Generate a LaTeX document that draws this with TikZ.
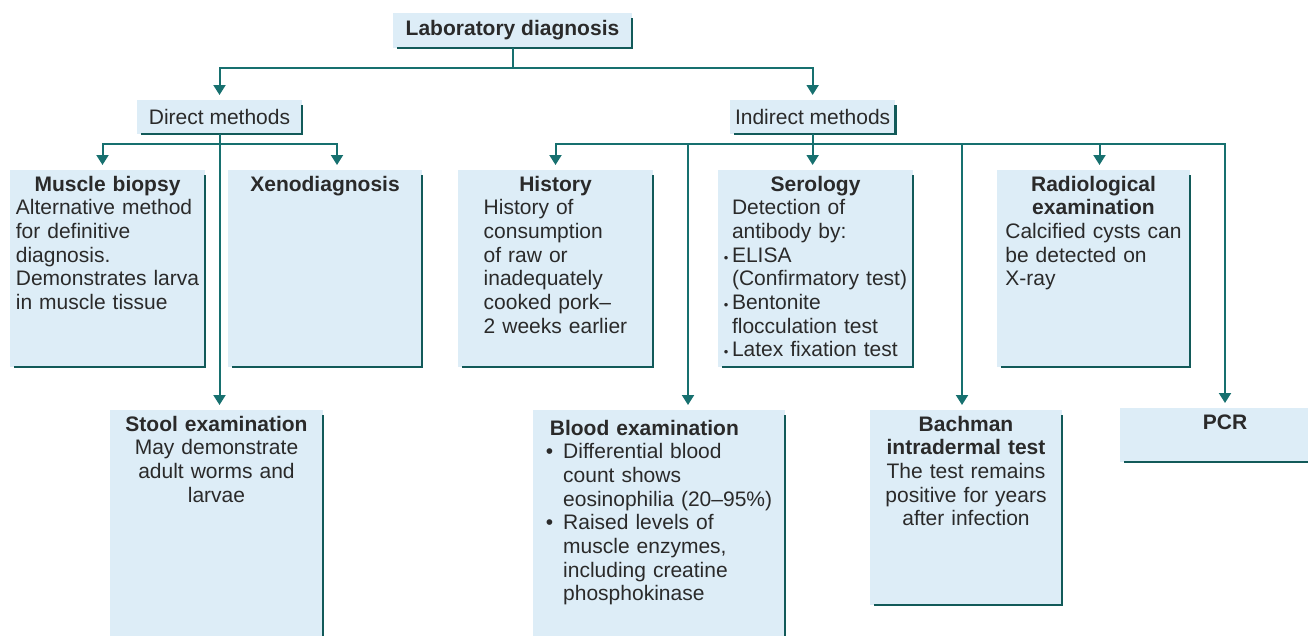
\documentclass[tikz,border=0pt]{standalone}
\usepackage{fontspec}
\setmainfont{Liberation Sans}
\usetikzlibrary{arrows.meta, positioning}
\definecolor{teal}{HTML}{17706F}
\definecolor{sky}{HTML}{DDEDF7}
\definecolor{ink}{HTML}{2A2A2A}
\newcommand{\sdot}{{\fontsize{13}{13}\selectfont\textbullet}}

\begin{document}
\begin{tikzpicture}[
  x=1pt, y=-1pt,
  font=\fontsize{21}{23.7}\selectfont, text=ink,
  panel/.style={fill=sky, anchor=north west, inner xsep=5pt, inner ysep=6pt,
                outer sep=0pt},
  tag/.style={panel, minimum width=#1, minimum height=34pt, inner ysep=0pt},
  cell/.style={panel, text width=#1, align=center, text height=15pt},
  ln/.style={draw=teal, line width=2pt},
  ar/.style={ln, -{Triangle[width=12pt,length=10pt]}, shorten >=5pt},
  edge/.style={draw=teal!80!black, line width=2.6pt}]

\useasboundingbox (0,0) rectangle (1308,635);
\clip (0,0) rectangle (1308,635);

% top levels
\node[tag=239pt, minimum height=35pt] (lab) at (393,13) {\textbf{Laboratory diagnosis}};
\node[tag=165pt] (dir) at (137,100) {Direct methods};
\node[tag=165pt] (ind) at (730,100) {Indirect methods};

% direct methods
\node[cell=185pt, text depth=170pt] (mb) at (10,170) {\textbf{Muscle biopsy}\\
  \begin{tabular}[t]{@{}l@{}}Alternative method\\for definitive\\diagnosis.\\Demonstrates larva\\in muscle tissue\end{tabular}};
\node[cell=184pt, text depth=170pt] (xeno) at (228,170) {\textbf{Xenodiagnosis}};
\node[cell=203pt, text depth=223pt] (stool) at (110,410) {\textbf{Stool examination}\\May demonstrate\\adult worms and\\larvae};

% indirect methods
\node[cell=185pt, text depth=170pt] (hist) at (458,170) {\textbf{History}\\
  \begin{tabular}[t]{@{}l@{}}History of\\consumption\\of raw or\\inadequately\\cooked pork--\\2 weeks earlier\end{tabular}};
\node[cell=191pt, inner xsep=2pt, text depth=170pt] (ser) at (718,170) {\textbf{Serology}\\
  \begin{tabular}[t]{@{}l@{\,}l@{}}
   & Detection of\\ & antibody by:\\ \sdot & ELISA\\ & (Confirmatory test)\\
   \sdot & Bentonite\\ & flocculation test\\ \sdot & Latex fixation test
  \end{tabular}};
\node[cell=183pt, text depth=170pt] (radio) at (997,170) {\textbf{Radiological}\\\textbf{examination}\\
  \begin{tabular}[t]{@{}l@{}}Calcified cysts can\\be detected on\\X-ray\end{tabular}};
\node[cell=242pt, text height=19pt, text depth=219pt] (blood) at (533,410) {%
  \begin{tabular}[t]{@{}l@{\hspace{10pt}}l@{}}
   \multicolumn{2}{@{}l@{}}{\hspace{4pt}\textbf{Blood examination}}\\
   \textbullet & Differential blood\\ & count shows\\ & eosinophilia (20--95\%)\\
   \textbullet & Raised levels of\\ & muscle enzymes,\\ & including creatine\\ & phosphokinase
  \end{tabular}};
\node[cell=182pt, text depth=168pt] (bach) at (870,410) {\textbf{Bachman}\\\textbf{intradermal test}\\The test remains\\positive for years\\after infection};
\node[cell=200pt, text depth=27pt] (pcr) at (1120,408) {\textbf{PCR}};

% shaded right and bottom edges
\foreach \n in {lab,dir,ind,mb,xeno,hist,ser,radio,stool,blood,bach,pcr}
  \draw[edge] ([yshift=-5pt]\n.north east) -- (\n.south east) -- ([xshift=4pt]\n.south west);

% connectors
\coordinate[below=20pt of lab.south] (lj);
\coordinate[below=10pt of dir.south] (dj);
\coordinate[below=10pt of ind.south] (ij);

\draw[ln] (lab) -- (lj);
\draw[ar] (lj) -| (dir);
\draw[ar] (lj) -| (ind);

\draw[ar] (dir.south) -- (dir.south |- stool.north);
\draw[ar] (dj) -| ([xshift=-5pt]mb.north);
\draw[ar] (dj) -| ([xshift=12pt]xeno.north);

\draw[ln] (ind) -- (ij);
\draw[ar] (ij) -| (hist);
\draw[ar] (ij) -- (ij |- ser.north);
\draw[ar] (ij) -| ([xshift=6pt]radio.north);
\draw[ar] (ij) -| ([xshift=29pt]blood.north);
\draw[ar] (ij) -| ([xshift=-4pt]bach.north);
\draw[ar] (ij) -| (pcr);
\end{tikzpicture}
\end{document}
